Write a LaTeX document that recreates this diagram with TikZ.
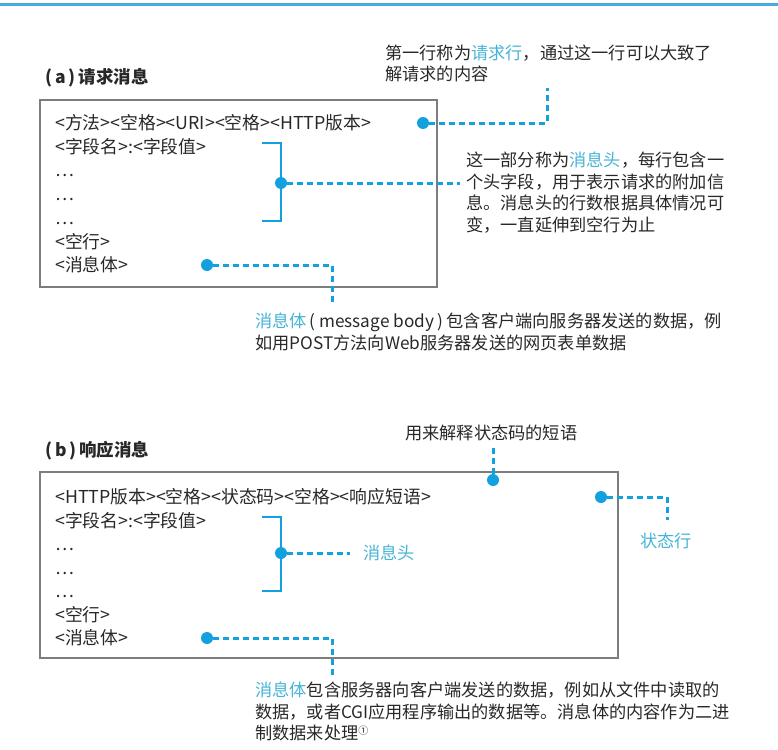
\documentclass[tikz,border=0pt]{standalone}
\usepackage{fontspec}
\setmainfont{Noto Sans CJK SC}
\definecolor{topblue}{RGB}{70,172,218}
\definecolor{dotblue}{RGB}{18,160,222}
\definecolor{hlcyan}{RGB}{70,180,214}
\definecolor{framegray}{RGB}{125,125,125}
\definecolor{inkgray}{RGB}{40,40,40}
\tikzset{
  frame/.style={draw=framegray, line width=2.4pt},
  msgline/.style={anchor=base west, inner sep=0pt, font=\fontsize{17.8}{21.5}\selectfont, text=inkgray},
  note/.style={anchor=base west, inner sep=0pt, align=left, font=\fontsize{17.2}{21.5}\selectfont, text=inkgray},
  title/.style={anchor=base west, inner sep=0pt, font=\bfseries\fontsize{17.5}{20}\selectfont, text=inkgray},
  pin/.style={circle, fill=dotblue, inner sep=0pt, minimum size=12pt},
  leader/.style={draw=dotblue, line width=3pt, dash pattern=on 6pt off 4pt},
  brace/.style={draw=dotblue, line width=2.6pt},
}
\newcommand{\hl}[1]{\textcolor{hlcyan}{#1}}
\begin{document}
\begin{tikzpicture}[x=1pt,y=-1pt]
\useasboundingbox (0,0) rectangle (778,749);
\draw[line width=3pt, draw=topblue] (0,5) -- (778,5);

% (a) request message
\node[title] (ta) at (45,84) {(\,a\,)\,请求消息};
\draw[frame] (40,100) rectangle (437,287);
\node[msgline] (a1) at (55,129.5) {<方法><空格><URI><空格><HTTP版本>};
\node[msgline] (a2) at (55,153.2) {<字段名>:<字段值>};
\node[msgline] (a3) at (55,176.9) {…};
\node[msgline] (a4) at (55,200.6) {…};
\node[msgline] (a5) at (55,224.3) {…};
\node[msgline] (a6) at (55,248) {<空行>};
\node[msgline] (a7) at (55,271.7) {<消息体>};
\draw[brace] (262,143) -- (281,143) -- (281,221) -- (262,221);
\node[pin] (pa1) at (423,123) {};
\node[pin] (pa2) at (281,183) {};
\node[pin] (pa3) at (207,265) {};
% multi-line notes sit on the baseline of their last line
\node[note] (na1) at (385,81) {第一行称为\hl{请求行}，通过这一行可以大致了\\解请求的内容};
\node[note] (na2) at (466,231) {这一部分称为\hl{消息头}，每行包含一\\个头字段，用于表示请求的附加信\\息。消息头的行数根据具体情况可\\变，一直延伸到空行为止};
\node[note] (na3) at (255,349) {\hl{消息体}\,( message body )\,包含客户端向服务器发送的数据，例\\如用POST方法向Web服务器发送的网页表单数据};
\coordinate (ka1) at (547,123);
\coordinate (ea1) at (547,88);
\coordinate (ea2) at (460,183);
\coordinate (ka3) at (332,265);
\coordinate (ea3) at (332,302);
\draw[leader] (pa1) -- (ka1) -- (ea1);
\draw[leader] (pa2) -- (ea2);
\draw[leader] (pa3) -- (ka3) -- (ea3);

% (b) response message
\node[title] (tb) at (45,456) {(\,b\,)\,响应消息};
\draw[frame] (40,472) rectangle (618,658);
\node[msgline] (b1) at (55,503.5) {<HTTP版本><空格><状态码><空格><响应短语>};
\node[msgline] (b2) at (55,527) {<字段名>:<字段值>};
\node[msgline] (b3) at (55,550.5) {…};
\node[msgline] (b4) at (55,574) {…};
\node[msgline] (b5) at (55,597.5) {…};
\node[msgline] (b6) at (55,621) {<空行>};
\node[msgline] (b7) at (55,644.5) {<消息体>};
\draw[brace] (262,517) -- (281,517) -- (281,591) -- (262,591);
\node[pin] (pb0) at (493,480) {};
\node[pin] (pb1) at (601,497) {};
\node[pin] (pb2) at (281,553) {};
\node[pin] (pb3) at (207,638) {};
\node[note] (nb0) at (405,439.5) {用来解释状态码的短语};
\node[note, text=hlcyan] (nb1) at (640,547.5) {状态行};
\node[note, text=hlcyan] (nb2) at (363,559.5) {消息头};
\node[note] (nb3) at (255,739.5) {\hl{消息体}包含服务器向客户端发送的数据，例如从文件中读取的\\数据，或者CGI应用程序输出的数据等。消息体的内容作为二进\\制数据来处理{\fontsize{10}{10}\selectfont\raisebox{5pt}{①}}};
\coordinate (eb0) at (493,448);
\coordinate (kb1) at (667,497);
\coordinate (eb1) at (667,520);
\coordinate (eb2) at (350,553);
\coordinate (kb3) at (332,638);
\coordinate (eb3) at (332,675);
\draw[leader] (pb0) -- (eb0);
\draw[leader] (pb1) -- (kb1) -- (eb1);
\draw[leader] (pb2) -- (eb2);
\draw[leader] (pb3) -- (kb3) -- (eb3);
\end{tikzpicture}
\end{document}
